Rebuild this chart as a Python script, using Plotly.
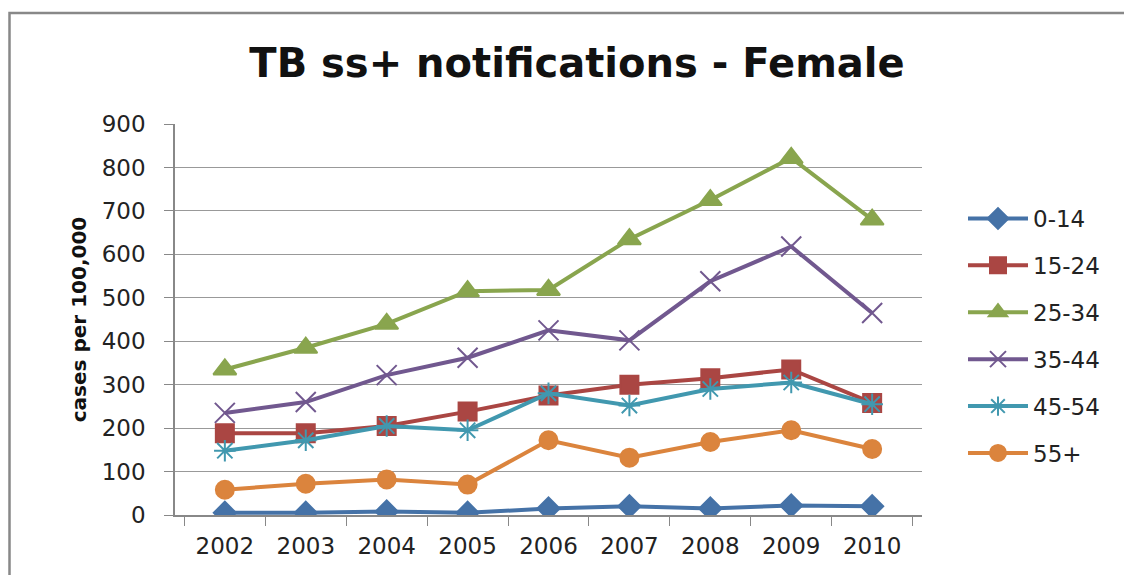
import plotly.graph_objects as go

years = ["2002", "2003", "2004", "2005", "2006", "2007", "2008", "2009", "2010"]
age_groups = ["0-14", "15-24", "25-34", "35-44", "45-54", "55+"]
v_0_14 = [5, 5, 8, 5, 15, 20, 15, 22, 20]
v_15_24 = [188, 188, 205, 238, 275, 300, 315, 335, 258]
v_25_34 = [335, 385, 440, 515, 518, 635, 725, 822, 680]
v_35_44 = [235, 260, 322, 362, 425, 402, 538, 618, 465]
v_45_54 = [148, 172, 205, 195, 280, 252, 290, 305, 255]
v_55p = [58, 72, 82, 70, 172, 132, 168, 195, 152]
series = [v_0_14, v_15_24, v_25_34, v_35_44, v_45_54, v_55p]

colors = ["#4572A7", "#AA4643", "#89A54E", "#71588F", "#4198AF", "#DB843D"]
symbols = ["diamond", "square", "triangle-up", "x-thin-open", "asterisk-open", "circle"]
sizes = [17, 18, 20, 20, 18, 18]

fig = go.Figure()
for name, vals, c, s, sz in zip(age_groups, series, colors, symbols, sizes):
    fig.add_trace(go.Scatter(
        x=years, y=vals, name=name, mode="lines+markers",
        line=dict(color=c, width=4),
        marker=dict(symbol=s, size=sz, color=c, line=dict(color=c, width=2)),
        legendgroup=name,
    ))

# page body has an 8px default margin; work in reference pixel coords minus offset
O = 8
W, H = 1132 - O, 575 - O
L, R, T, B = 175 - O, 922 - O, 124 - O, 515 - O
pw, ph = R - L, B - T

FONT = "DejaVu Sans, Verdana, sans-serif"

fig.update_layout(
    width=W, height=H,
    margin=dict(l=L, r=W - R, t=T, b=H - B),
    paper_bgcolor="white", plot_bgcolor="white",
    font=dict(family=FONT, size=23, color="#222"),
    title=dict(text="<b>TB ss+ notifications - Female</b>", x=(577 - O) / W, xanchor="center",
               y=1 - (63 - O) / H, yanchor="middle",
               font=dict(size=40, color="#111", family=FONT)),
    showlegend=True,
    legend=dict(x=(963 - O - L) / pw, xanchor="left", y=(B - (197 - O)) / ph, yanchor="top",
                font=dict(size=23, color="#222", family=FONT), tracegroupgap=14,
                traceorder="grouped", itemwidth=60, bgcolor="rgba(0,0,0,0)"),
    xaxis=dict(type="category", showgrid=False, showline=True, linecolor="#888",
               linewidth=1.5, ticks="outside", tickson="boundaries", ticklen=9,
               tickcolor="#888", tickfont=dict(size=23, color="#222"),
               ticklabelstandoff=10),
    yaxis=dict(range=[0, 900], dtick=100, showgrid=True, gridcolor="#999", gridwidth=1.2,
               showline=True, linecolor="#888", linewidth=1.5, ticks="outside",
               ticklen=9, tickcolor="#888", zeroline=False,
               tickfont=dict(size=23, color="#222"), ticklabelstandoff=14,
               title=dict(text="<b>cases per 100,000</b>", font=dict(size=20, color="#111", family=FONT),
                          standoff=10)),
)

fig.add_shape(type="rect", xref="paper", yref="paper",
              x0=(1.5 - L) / pw, x1=(W + 10 - L) / pw,
              y0=(B - (H + 10)) / ph, y1=(B - (13 - O)) / ph,
              line=dict(color="#888", width=2.5), fillcolor="rgba(0,0,0,0)", layer="below")

fig.write_html("out.html")
